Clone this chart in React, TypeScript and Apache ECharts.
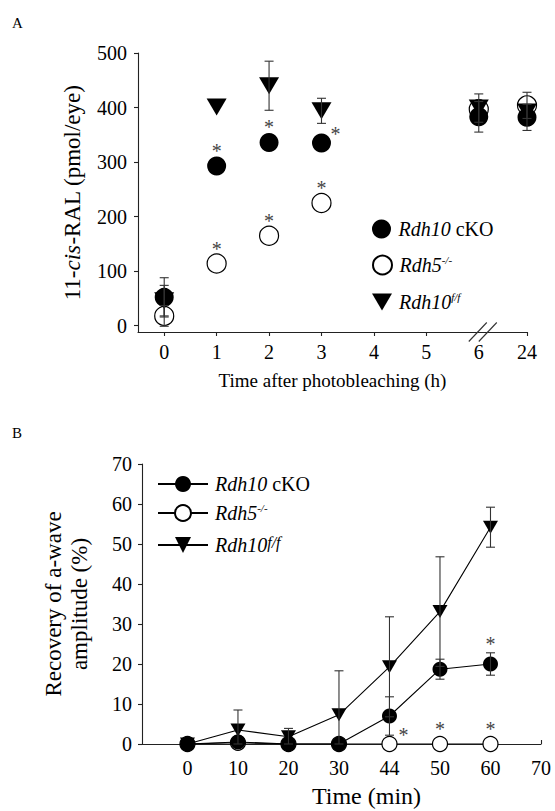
import React, { useEffect, useRef } from 'react';
import * as echarts from 'echarts';

// ---------- Panel A: 11-cis-RAL (pmol/eye) ----------
const timesA = [0, 1, 2, 3, 6, 24];
const tickLabelsA = ['0', '1', '2', '3', '4', '5', '6', '24'];
const ckoA = [52, 293, 336, 335, 383, 382];
const ckoErrA = [36, 0, 0, 0, 28, 24];
const rdh5A = [18, 114, 165, 225, 397, 404];
const rdh5ErrA = [19, 0, 0, 0, 0, 24];
const ffA = [46, 401, 440, 394, 399, 392];
const ffErrA = [28, 0, 45, 23, 26, 0];
const sigA: [string, number, string][] = [
  ['cko', 1, 'above'], ['cko', 2, 'above'], ['cko', 3, 'right'],
  ['rdh5', 1, 'above'], ['rdh5', 2, 'above'], ['rdh5', 3, 'above'],
];

// ---------- Panel B: Recovery of a-wave amplitude (%) ----------
const tickLabelsB = ['0', '10', '20', '30', '44', '50', '60', '70'];
const timesB = ['0', '10', '20', '30', '44', '50', '60'];
const ckoB = [0, 0.5, 0, 0, 7, 18.7, 20];
const ckoErrB = [0, 0, 0, 0, 4.8, 2.5, 2.8];
const rdh5B = [0, 0.3, 0, 0, 0, 0, 0];
const ffB = [0, 3.5, 1.8, 7.3, 19.3, 33.1, 54.2];
const ffErrB = [0, 5, 2.1, 11, 12.5, 13.7, 5];
const sigB: [string, string, string][] = [
  ['rdh5', '44', 'right'], ['rdh5', '50', 'above'], ['rdh5', '60', 'above'], ['cko', '60', 'above'],
];

const FONT = "'Liberation Serif', 'Times New Roman', serif";
const TRI = 'path://M0,0L20,0L10,17Z';
const INK = '#000';

const posA = (t: number) => (t === 24 ? 6.92 : t);
const tickPosA = tickLabelsA.map((l) => posA(Number(l)));
const posB = (label: string) => tickLabelsB.indexOf(label) * 10;

const legendText: Record<string, string> = {
  a_cko: '{i|Rdh10} cKO',
  a_rdh5: '{i|Rdh5}{s|-/-}',
  a_ff: '{i|Rdh10}{s|f/f}',
  b_cko: '{i|Rdh10} cKO',
  b_rdh5: '{i|Rdh5}{s|-/-}',
  b_ff: '{i|Rdh10}{t|f/f}',
};

const rich = {
  i: { fontStyle: 'italic', fontWeight: 'normal', fontFamily: FONT, fontSize: 20, lineHeight: 22, color: INK },
  s: { fontStyle: 'italic', fontWeight: 'normal', fontFamily: FONT, fontSize: 11, lineHeight: 12, verticalAlign: 'top', color: INK },
  t: { fontStyle: 'italic', fontWeight: 'normal', fontFamily: FONT, fontSize: 16, lineHeight: 14, verticalAlign: 'top', color: INK },
};

function errRender(params: any, api: any) {
  const x = api.value(0);
  const lo = api.coord([x, api.value(1)]);
  const hi = api.coord([x, api.value(2)]);
  const hw = 4.5;
  const st = { stroke: '#333', lineWidth: 1.1, fill: null };
  return {
    type: 'group',
    children: [
      { type: 'line', shape: { x1: hi[0], y1: hi[1], x2: lo[0], y2: lo[1] }, style: st },
      { type: 'line', shape: { x1: hi[0] - hw, y1: hi[1], x2: hi[0] + hw, y2: hi[1] }, style: st },
      { type: 'line', shape: { x1: lo[0] - hw, y1: lo[1], x2: lo[0] + hw, y2: lo[1] }, style: st },
    ],
  };
}

function starRender(params: any, api: any) {
  const p = api.coord([api.value(0), api.value(1)]);
  const kind = api.value(2);
  const hasErr = api.value(3);
  let dx = 0;
  let dy = hasErr ? -14 : -20;
  if (kind === 1) { dx = 14; dy = -14; }
  return {
    type: 'text',
    x: p[0] + dx,
    y: p[1] + dy + 5,
    style: { text: '*', font: '20px ' + FONT, fill: '#444', stroke: null, align: 'center', verticalAlign: 'middle' },
  };
}

function errData(xs: number[], vals: number[], errs: number[], clip: boolean) {
  const out: number[][] = [];
  xs.forEach((x, i) => {
    if (errs[i] > 0) {
      const lo = vals[i] - errs[i];
      out.push([x, clip ? Math.max(0, lo) : lo, vals[i] + errs[i]]);
    }
  });
  return out;
}

export default function App() {
  const ref = useRef<HTMLDivElement>(null);
  useEffect(() => {
    if (!ref.current) return;
    const chart = echarts.init(ref.current, null, { renderer: 'svg' });
    const xA = timesA.map(posA);
    const xB = timesB.map(posB);
    const seriesValsA: Record<string, number[]> = { cko: ckoA, rdh5: rdh5A, ff: ffA };
    const seriesErrA: Record<string, number[]> = { cko: ckoErrA, rdh5: rdh5ErrA, ff: ffErrA };
    const seriesValsB: Record<string, number[]> = { cko: ckoB, rdh5: rdh5B, ff: ffB };
    const seriesErrB: Record<string, number[]> = { cko: ckoErrB, rdh5: rdh5B.map(() => 0), ff: ffErrB };

    const starsA = sigA.map(([s, t, k]) => {
      const i = timesA.indexOf(t);
      return [posA(t), seriesValsA[s][i], k === 'right' ? 1 : 0, seriesErrA[s][i] > 0 ? 1 : 0];
    });
    const starsB = sigB.map(([s, t, k]) => {
      const i = timesB.indexOf(t);
      const top = seriesValsB[s][i] + seriesErrB[s][i];
      return [posB(t), top, k === 'right' ? 1 : 0, seriesErrB[s][i] > 0 ? 1 : 0];
    });

    const axisText = { fontFamily: FONT, fontSize: 20, color: INK };
    const lineStyle = { color: '#222', width: 1.1 };

    const legendCommon = {
      orient: 'vertical',
      selectedMode: false,
      padding: 0,
      formatter: (n: string) => legendText[n],
      textStyle: { fontFamily: FONT, fontSize: 20, color: INK, rich, padding: [0, 0, 0, 2] },
    };

    const option: any = {
      animation: false,
      backgroundColor: '#fff',
      textStyle: { fontFamily: FONT },
      grid: [
        { left: 138, top: 53, width: 389, height: 279 },
        { left: 142, top: 464, width: 399, height: 280 },
      ],
      xAxis: [
        {
          type: 'value', gridIndex: 0, min: -0.5, max: 6.92,
          axisLine: { show: true, onZero: false, lineStyle },
          axisTick: { show: true, length: 4, lineStyle, customValues: tickPosA.filter((p) => p !== 6) },
          axisLabel: {
            ...axisText, margin: 10, customValues: tickPosA,
            formatter: (v: number) => tickLabelsA[tickPosA.indexOf(v)] ?? '',
          },
          splitLine: { show: false },
          name: 'Time after photobleaching (h)', nameLocation: 'middle', nameGap: 39,
          nameTextStyle: { ...axisText, fontSize: 19 },
        },
        {
          type: 'value', gridIndex: 1, min: -9, max: 70,
          axisLine: { show: true, onZero: false, lineStyle },
          axisTick: { show: true, inside: true, length: 4, lineStyle, customValues: tickLabelsB.map(posB) },
          axisLabel: {
            ...axisText, margin: 14, customValues: tickLabelsB.map(posB),
            formatter: (v: number) => tickLabelsB[v / 10] ?? '',
          },
          splitLine: { show: false },
          name: 'Time (min)', nameLocation: 'middle', nameGap: 40,
          nameTextStyle: { ...axisText, fontSize: 24, padding: [0, 0, 0, 50] },
        },
      ],
      yAxis: [
        {
          type: 'value', gridIndex: 0, min: -11.5, max: 500,
          axisLine: { show: true, onZero: false, lineStyle },
          axisTick: { show: true, length: 4, lineStyle, customValues: [0, 100, 200, 300, 400, 500] },
          axisLabel: { ...axisText, margin: 11, customValues: [0, 100, 200, 300, 400, 500] },
          splitLine: { show: false },
          name: '11-{i|cis}-RAL (pmol/eye)', nameLocation: 'middle', nameGap: 54,
          nameTextStyle: { ...axisText, fontSize: 23, rich: { i: { fontStyle: 'italic', fontFamily: FONT, fontSize: 23, color: INK } } },
        },
        {
          type: 'value', gridIndex: 1, min: 0, max: 70, interval: 10,
          axisLine: { show: true, onZero: false, lineStyle },
          axisTick: { show: true, length: 4, lineStyle },
          axisLabel: { ...axisText, margin: 10 },
          splitLine: { show: false },
          name: 'Recovery of a-wave\namplitude (%)', nameLocation: 'middle', nameGap: 50,
          nameTextStyle: { ...axisText, fontSize: 23, lineHeight: 26 },
        },
      ],
      legend: [
        { ...legendCommon, left: 372, top: 219, itemWidth: 20, itemHeight: 19, data: ['a_cko'] },
        { ...legendCommon, left: 372, top: 254, itemWidth: 20, itemHeight: 19, data: ['a_rdh5'] },
        { ...legendCommon, left: 372, top: 291, itemWidth: 20, itemHeight: 19, data: ['a_ff'] },
        { ...legendCommon, left: 157, top: 474, itemWidth: 50, itemHeight: 20, data: ['b_cko'] },
        { ...legendCommon, left: 157, top: 502, itemWidth: 50, itemHeight: 20, data: ['b_rdh5'] },
        { ...legendCommon, left: 157, top: 534, itemWidth: 50, itemHeight: 20, data: ['b_ff'] },
      ],
      graphic: [
        { type: 'text', left: 12, top: 15, style: { text: 'A', font: '15px ' + FONT, fill: INK } },
        { type: 'text', left: 12, top: 425, style: { text: 'B', font: '15px ' + FONT, fill: INK } },
      ],
      series: [
        {
          name: 'a_rdh5', type: 'scatter', xAxisIndex: 0, yAxisIndex: 0, z: 2,
          symbol: 'circle', symbolSize: 19,
          itemStyle: { color: '#fff', borderColor: INK, borderWidth: 1.2, opacity: 1 },
          data: xA.map((x, i) => [x, rdh5A[i]]),
        },
        {
          name: 'a_ff', type: 'scatter', xAxisIndex: 0, yAxisIndex: 0, z: 3,
          symbol: TRI, symbolSize: [20, 17],
          itemStyle: { color: INK, opacity: 1 },
          data: xA.map((x, i) => [x, ffA[i]]),
        },
        {
          name: 'a_cko', type: 'scatter', xAxisIndex: 0, yAxisIndex: 0, z: 4,
          symbol: 'circle', symbolSize: 19,
          itemStyle: { color: INK, opacity: 1 },
          data: xA.map((x, i) => [x, ckoA[i]]),
        },
        {
          type: 'custom', xAxisIndex: 0, yAxisIndex: 0, z: 5, renderItem: errRender,
          encode: { x: 0, y: [1, 2] },
          data: [
            ...errData(xA, ckoA, ckoErrA, false),
            ...errData(xA, rdh5A, rdh5ErrA, false),
            ...errData(xA, ffA, ffErrA, false),
          ],
        },
        {
          type: 'custom', xAxisIndex: 0, yAxisIndex: 0, z: 6, renderItem: starRender,
          encode: { x: 0, y: 1 }, data: starsA,
        },
        {
          type: 'custom', xAxisIndex: 0, yAxisIndex: 0, z: 6,
          encode: { x: 0, y: 1 }, data: [[6, -11.5]],
          renderItem: (params: any, api: any) => {
            const p = api.coord([api.value(0), api.value(1)]);
            const st = { stroke: '#333', lineWidth: 1.1, fill: null };
            const mk = (cx: number) => ({
              type: 'line', shape: { x1: cx - 9, y1: p[1] + 9.5, x2: cx + 9, y2: p[1] - 9.5 }, style: st,
            });
            return { type: 'group', children: [mk(p[0] - 1), mk(p[0] + 9)] };
          },
        },
        {
          name: 'b_rdh5', type: 'line', xAxisIndex: 1, yAxisIndex: 1, z: 2,
          symbol: 'circle', symbolSize: 15,
          lineStyle: { color: INK, width: 1.1 },
          itemStyle: { color: '#fff', borderColor: INK, borderWidth: 1.2 },
          data: xB.map((x, i) => [x, rdh5B[i]]),
        },
        {
          name: 'b_ff', type: 'line', xAxisIndex: 1, yAxisIndex: 1, z: 3,
          symbol: TRI, symbolSize: [15, 13],
          lineStyle: { color: INK, width: 1.1 },
          itemStyle: { color: INK },
          data: xB.map((x, i) => [x, ffB[i]]),
        },
        {
          name: 'b_cko', type: 'line', xAxisIndex: 1, yAxisIndex: 1, z: 4,
          symbol: 'circle', symbolSize: 15,
          lineStyle: { color: INK, width: 1.1 },
          itemStyle: { color: INK },
          data: xB.map((x, i) => [x, ckoB[i]]),
        },
        {
          type: 'custom', xAxisIndex: 1, yAxisIndex: 1, z: 5, renderItem: errRender,
          encode: { x: 0, y: [1, 2] },
          data: [...errData(xB, ckoB, ckoErrB, true), ...errData(xB, ffB, ffErrB, true)],
        },
        {
          type: 'custom', xAxisIndex: 1, yAxisIndex: 1, z: 6, renderItem: starRender,
          encode: { x: 0, y: 1 }, data: starsB,
        },
      ],
    };
    chart.setOption(option);
    return () => chart.dispose();
  }, []);
  return <div ref={ref} style={{ position: 'absolute', left: 0, top: 0, width: 555, height: 811 }} />;
}
